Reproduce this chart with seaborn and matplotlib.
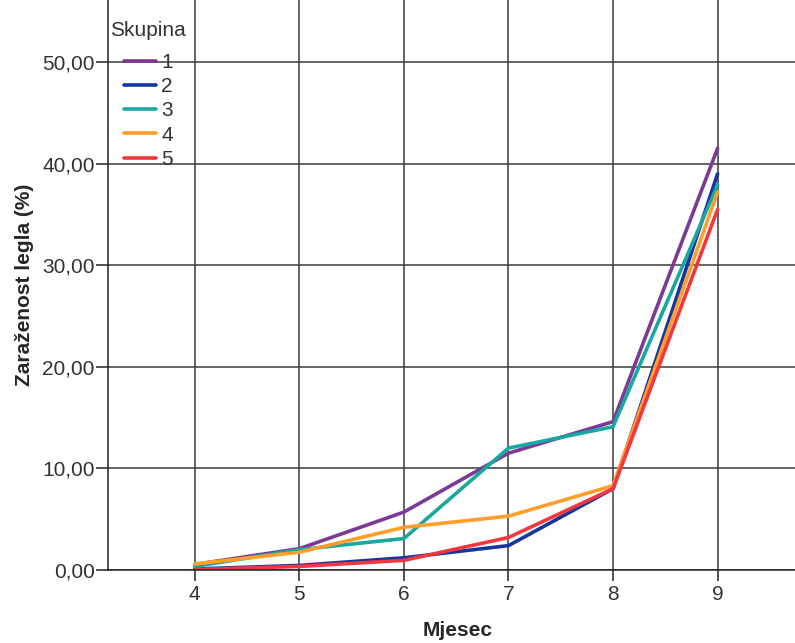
import pandas as pd
import matplotlib
matplotlib.use("Agg")
import matplotlib.pyplot as plt
import seaborn as sns

# ── Data ──────────────────────────────────────────────────────────────────────
months = [4, 5, 6, 7, 8, 9]
group_1 = [0.55, 2.1, 5.7, 11.5, 14.6, 41.5]
group_2 = [0.10, 0.45, 1.2, 2.4, 8.0, 39.0]
group_3 = [0.35, 2.0, 3.1, 12.0, 14.1, 37.9]
group_4 = [0.60, 1.75, 4.2, 5.3, 8.3, 37.2]
group_5 = [0.05, 0.35, 0.95, 3.2, 8.0, 35.5]
groups = ["1", "2", "3", "4", "5"]
colors = ["#7B3A96", "#1536A0", "#19A8A0", "#FF9E28", "#F2383E"]
y_ticks = [0, 10, 20, 30, 40, 50]

rows = []
for name, vals in zip(groups, [group_1, group_2, group_3, group_4, group_5]):
    for m, v in zip(months, vals):
        rows.append({"Mjesec": m, "Vrijednost": v, "Skupina": name})
df = pd.DataFrame(rows)

sns.set_style("white")
plt.rcParams["font.family"] = ["Liberation Sans", "DejaVu Sans"]

W, H = 795, 643
fig = plt.figure(figsize=(W / 100, H / 100), dpi=100)
ax = fig.add_axes([108 / W, 1 - 570 / H, 687 / W, 570 / H])

sns.lineplot(data=df, x="Mjesec", y="Vrijednost", hue="Skupina",
             palette=dict(zip(groups, colors)), linewidth=2.6, ax=ax)

ax.set_xlim(3.17, 9.74)
ax.set_ylim(0, 56.1)
ax.set_xticks(months)
ax.set_yticks(y_ticks)
ax.set_yticklabels([f"{t:.2f}".replace(".", ",") for t in y_ticks])
ax.grid(True, color="#3a3a3a", linewidth=1.1)
ax.set_axisbelow(True)

for side in ["top", "right"]:
    ax.spines[side].set_visible(False)
for side in ["left", "bottom"]:
    ax.spines[side].set_color("#222222")
    ax.spines[side].set_linewidth(1.1)

ax.tick_params(axis="both", which="major", width=1.1, color="#222222",
               labelsize=15, labelcolor="#333333", direction="out",
               left=True, bottom=True)
ax.tick_params(axis="y", length=9, pad=0.5)
ax.tick_params(axis="x", length=8, pad=3)

ax.set_xlabel("Mjesec", fontsize=15, fontweight="bold")
ax.set_ylabel("Zaraženost legla (%)", fontsize=15, fontweight="bold")
ax.xaxis.set_label_coords(0.509, -0.09)
ax.yaxis.set_label_coords(-0.107, 0.5)

# legend: title placed on its own, entries indented like the reference
fig.text(110 / W, 1 - 30 / H, "Skupina", fontsize=15, color="#333333",
         ha="left", va="center")
leg = ax.legend(loc="upper left", bbox_to_anchor=(124 / W, 1 - 53 / H),
                bbox_transform=fig.transFigure, frameon=False, fontsize=15,
                borderpad=0, borderaxespad=0, handlelength=1.55,
                handletextpad=0.25, labelspacing=0.25)
for t in leg.get_texts():
    t.set_color("#333333")

fig.savefig("out.png", dpi=100)
